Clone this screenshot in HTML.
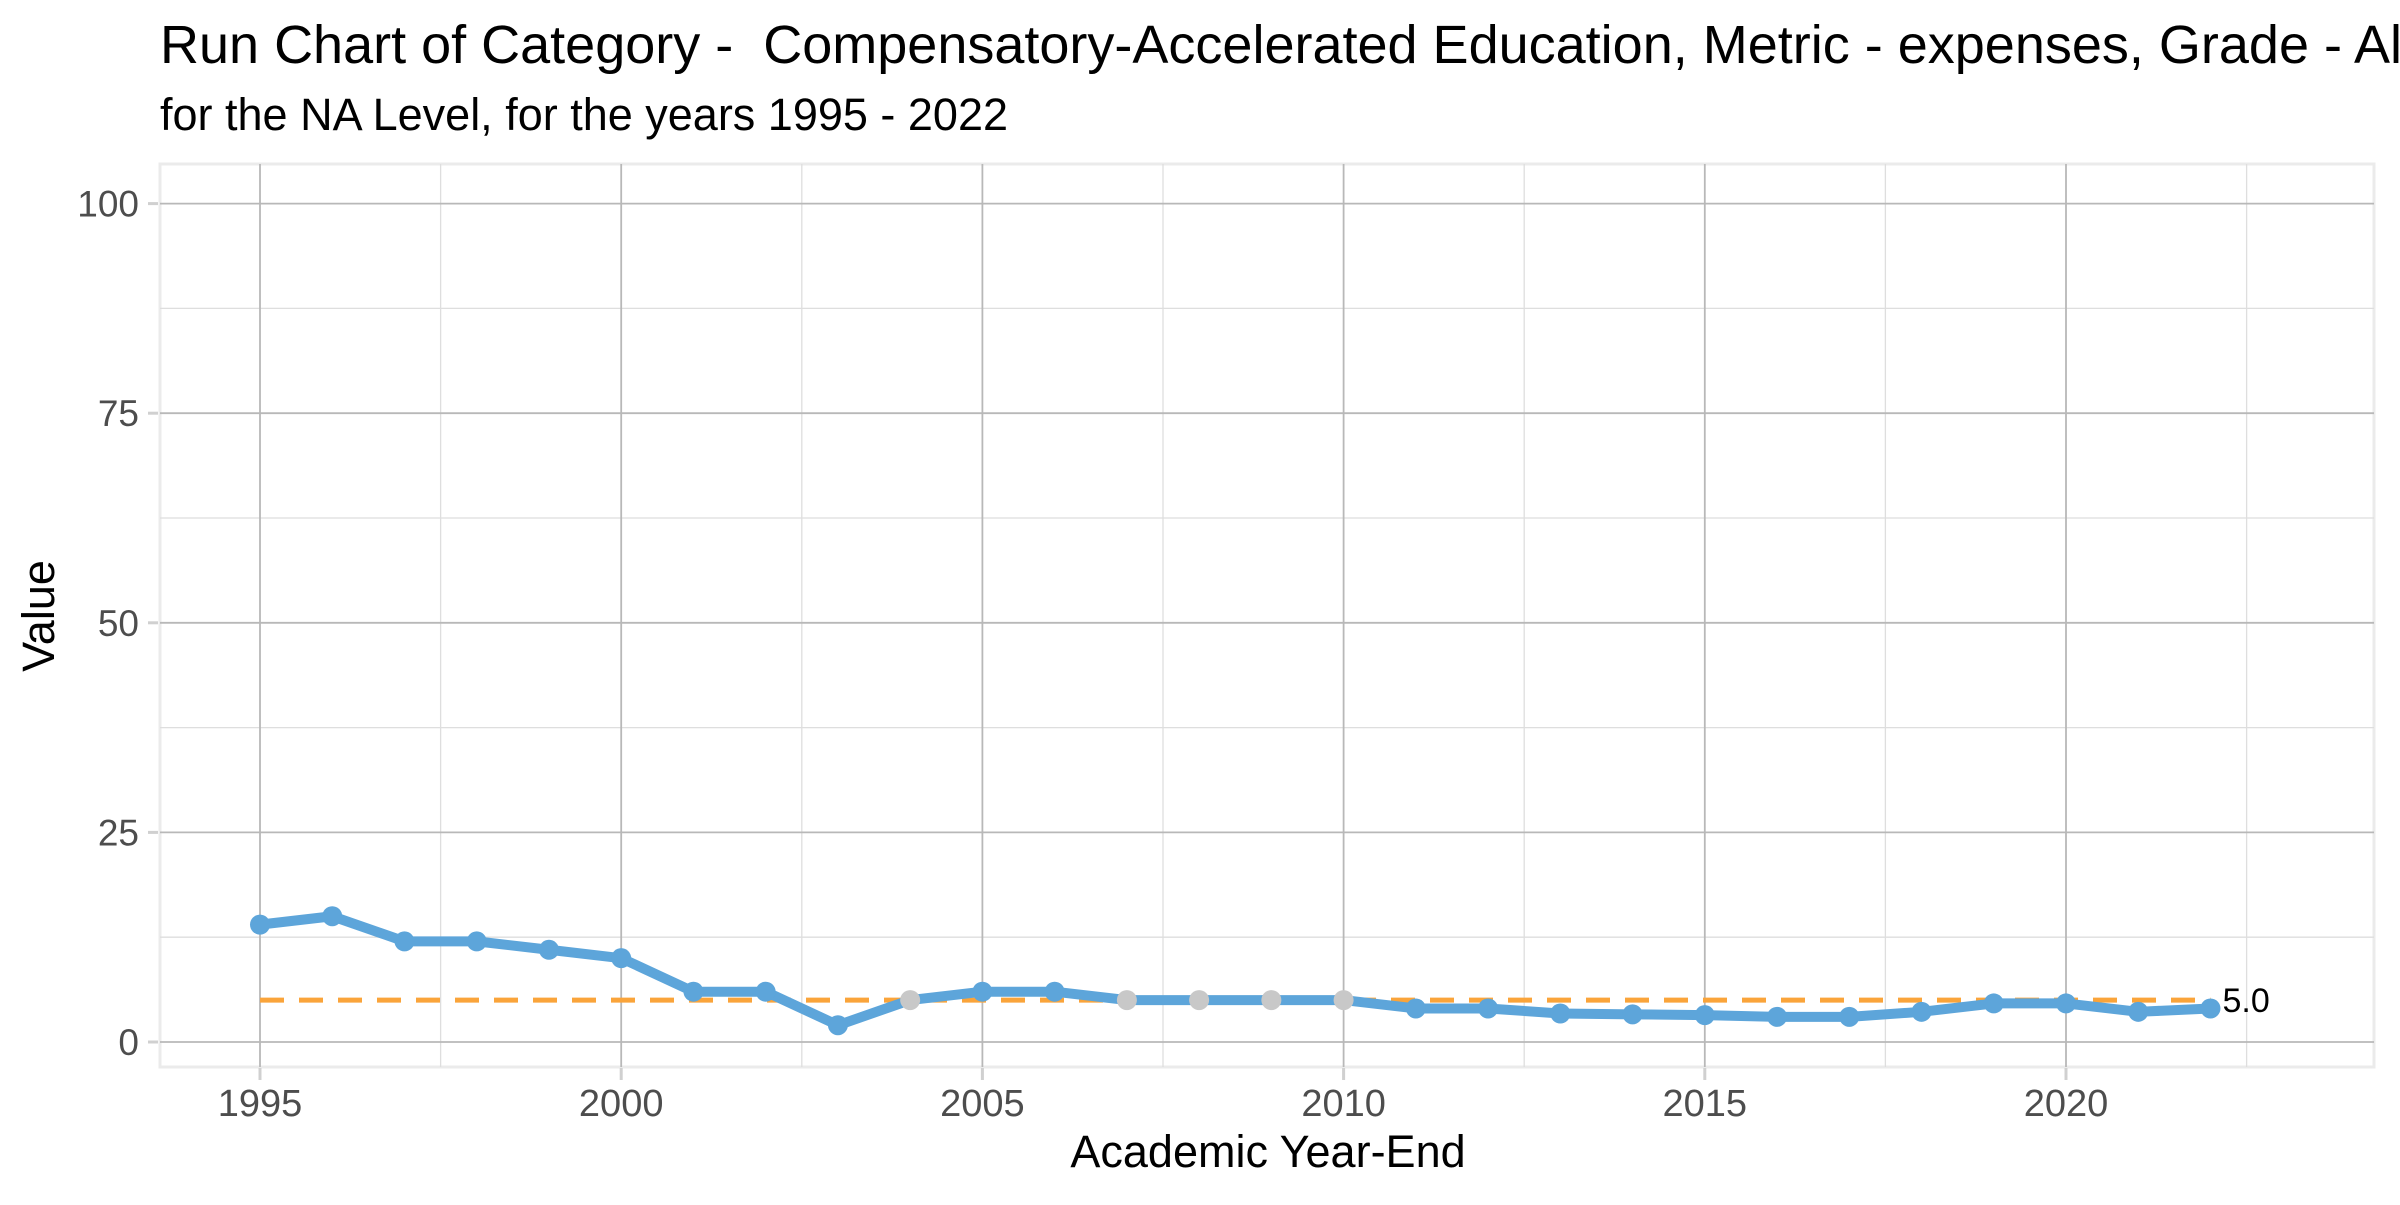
<!DOCTYPE html>
<html><head><meta charset="utf-8"><style>
body{margin:0;background:#fff;overflow:hidden;}
svg text{font-family:"Liberation Sans",sans-serif;}
</style></head><body>
<svg id="chart" width="2400" height="1200" xmlns="http://www.w3.org/2000/svg">
<rect width="2400" height="1200" fill="#fff"/>
<text x="160" y="63" font-size="54" fill="#000" xml:space="preserve" style="white-space:pre">Run Chart of Category -  Compensatory-Accelerated Education, Metric - expenses, Grade - All</text>
<text x="160" y="130" font-size="45" fill="#000">for the NA Level, for the years 1995 - 2022</text>
<g id="grid"></g><g id="axes"></g><g id="marks"></g>
<text x="1268" y="1167" font-size="45" text-anchor="middle" fill="#000">Academic Year-End</text>
<text transform="translate(54,616) rotate(-90)" font-size="45" text-anchor="middle" fill="#000">Value</text>
</svg>
<script>
const years=[1995,1996,1997,1998,1999,2000,2001,2002,2003,2004,2005,2006,2007,2008,2009,2010,2011,2012,2013,2014,2015,2016,2017,2018,2019,2020,2021,2022];
const values=[14,15,12,12,11,10,6,6,2,5,6,6,5,5,5,5,4,4,3.4,3.3,3.2,3,3,3.6,4.6,4.6,3.6,4];
const medianValue=[5];
const xTicks=[1995,2000,2005,2010,2015,2020];
const yTicks=[0,25,50,75,100];
const NS="http://www.w3.org/2000/svg";
const L=160,R=2374,T=164,B=1067;
const x=v=>260+(v-1995)*72.24;
const y=v=>1042-v*8.384;
function mk(tag,attrs,parent){const e=document.createElementNS(NS,tag);for(const k in attrs)e.setAttribute(k,attrs[k]);parent.appendChild(e);return e;}
const grid=document.getElementById('grid'),axes=document.getElementById('axes'),marks=document.getElementById('marks');
let panel=mk('rect',{x:L,y:T,width:R-L,height:B-T,fill:'none',stroke:'#ebebeb','stroke-width':3},grid);

for(let i=0;i<yTicks.length-1;i++){const m=(yTicks[i]+yTicks[i+1])/2;
 let g=mk('line',{x1:L,x2:R,y1:y(m),y2:y(m),stroke:'#dedede','stroke-width':1.3},grid);
 }
for(let i=0;i<xTicks.length;i++){const m=xTicks[i]+2.5;
 let g=mk('line',{x1:x(m),x2:x(m),y1:T,y2:B,stroke:'#dedede','stroke-width':1.3},grid);
 }
yTicks.forEach(t=>{
 let g=mk('line',{x1:L,x2:R,y1:y(t),y2:y(t),stroke:'#b8b8b8','stroke-width':1.8},grid);
 
 let tk=mk('line',{x1:148,x2:158,y1:y(t),y2:y(t),stroke:'#d0d0d0','stroke-width':3},axes);
 
 let tx=mk('text',{x:139,y:y(t)+13,'font-size':37,'text-anchor':'end',fill:'#4d4d4d'},axes);tx.textContent=t;
 });
xTicks.forEach(t=>{
 let g=mk('line',{x1:x(t),x2:x(t),y1:T,y2:B,stroke:'#b8b8b8','stroke-width':1.8},grid);
 
 let tk=mk('line',{x1:x(t),x2:x(t),y1:1068,y2:1080,stroke:'#d0d0d0','stroke-width':3},axes);
 
 let tx=mk('text',{x:x(t),y:1116,'font-size':38,'text-anchor':'middle',fill:'#4d4d4d'},axes);tx.textContent=t;
 });
const med=medianValue[0];
let ml=mk('line',{x1:x(years[0]),x2:x(years[years.length-1]),y1:y(med),y2:y(med),stroke:'#FAA43A','stroke-width':5,'stroke-dasharray':'24 15'},marks);

let pl=mk('polyline',{points:years.map((yr,i)=>x(yr)+','+y(values[i])).join(' '),fill:'none',stroke:'#5DA5DA','stroke-width':10,'stroke-linejoin':'round'},marks);

years.forEach((yr,i)=>{
 let c=mk('circle',{cx:x(yr),cy:y(values[i]),r:10,fill:values[i]===med?'#C8C8C8':'#5DA5DA'},marks);
 });
let lb=mk('text',{x:x(years[years.length-1])+12,y:y(med)+12,'font-size':34,fill:'#000'},marks);lb.textContent=med.toFixed(1);

</script>
</body></html>
